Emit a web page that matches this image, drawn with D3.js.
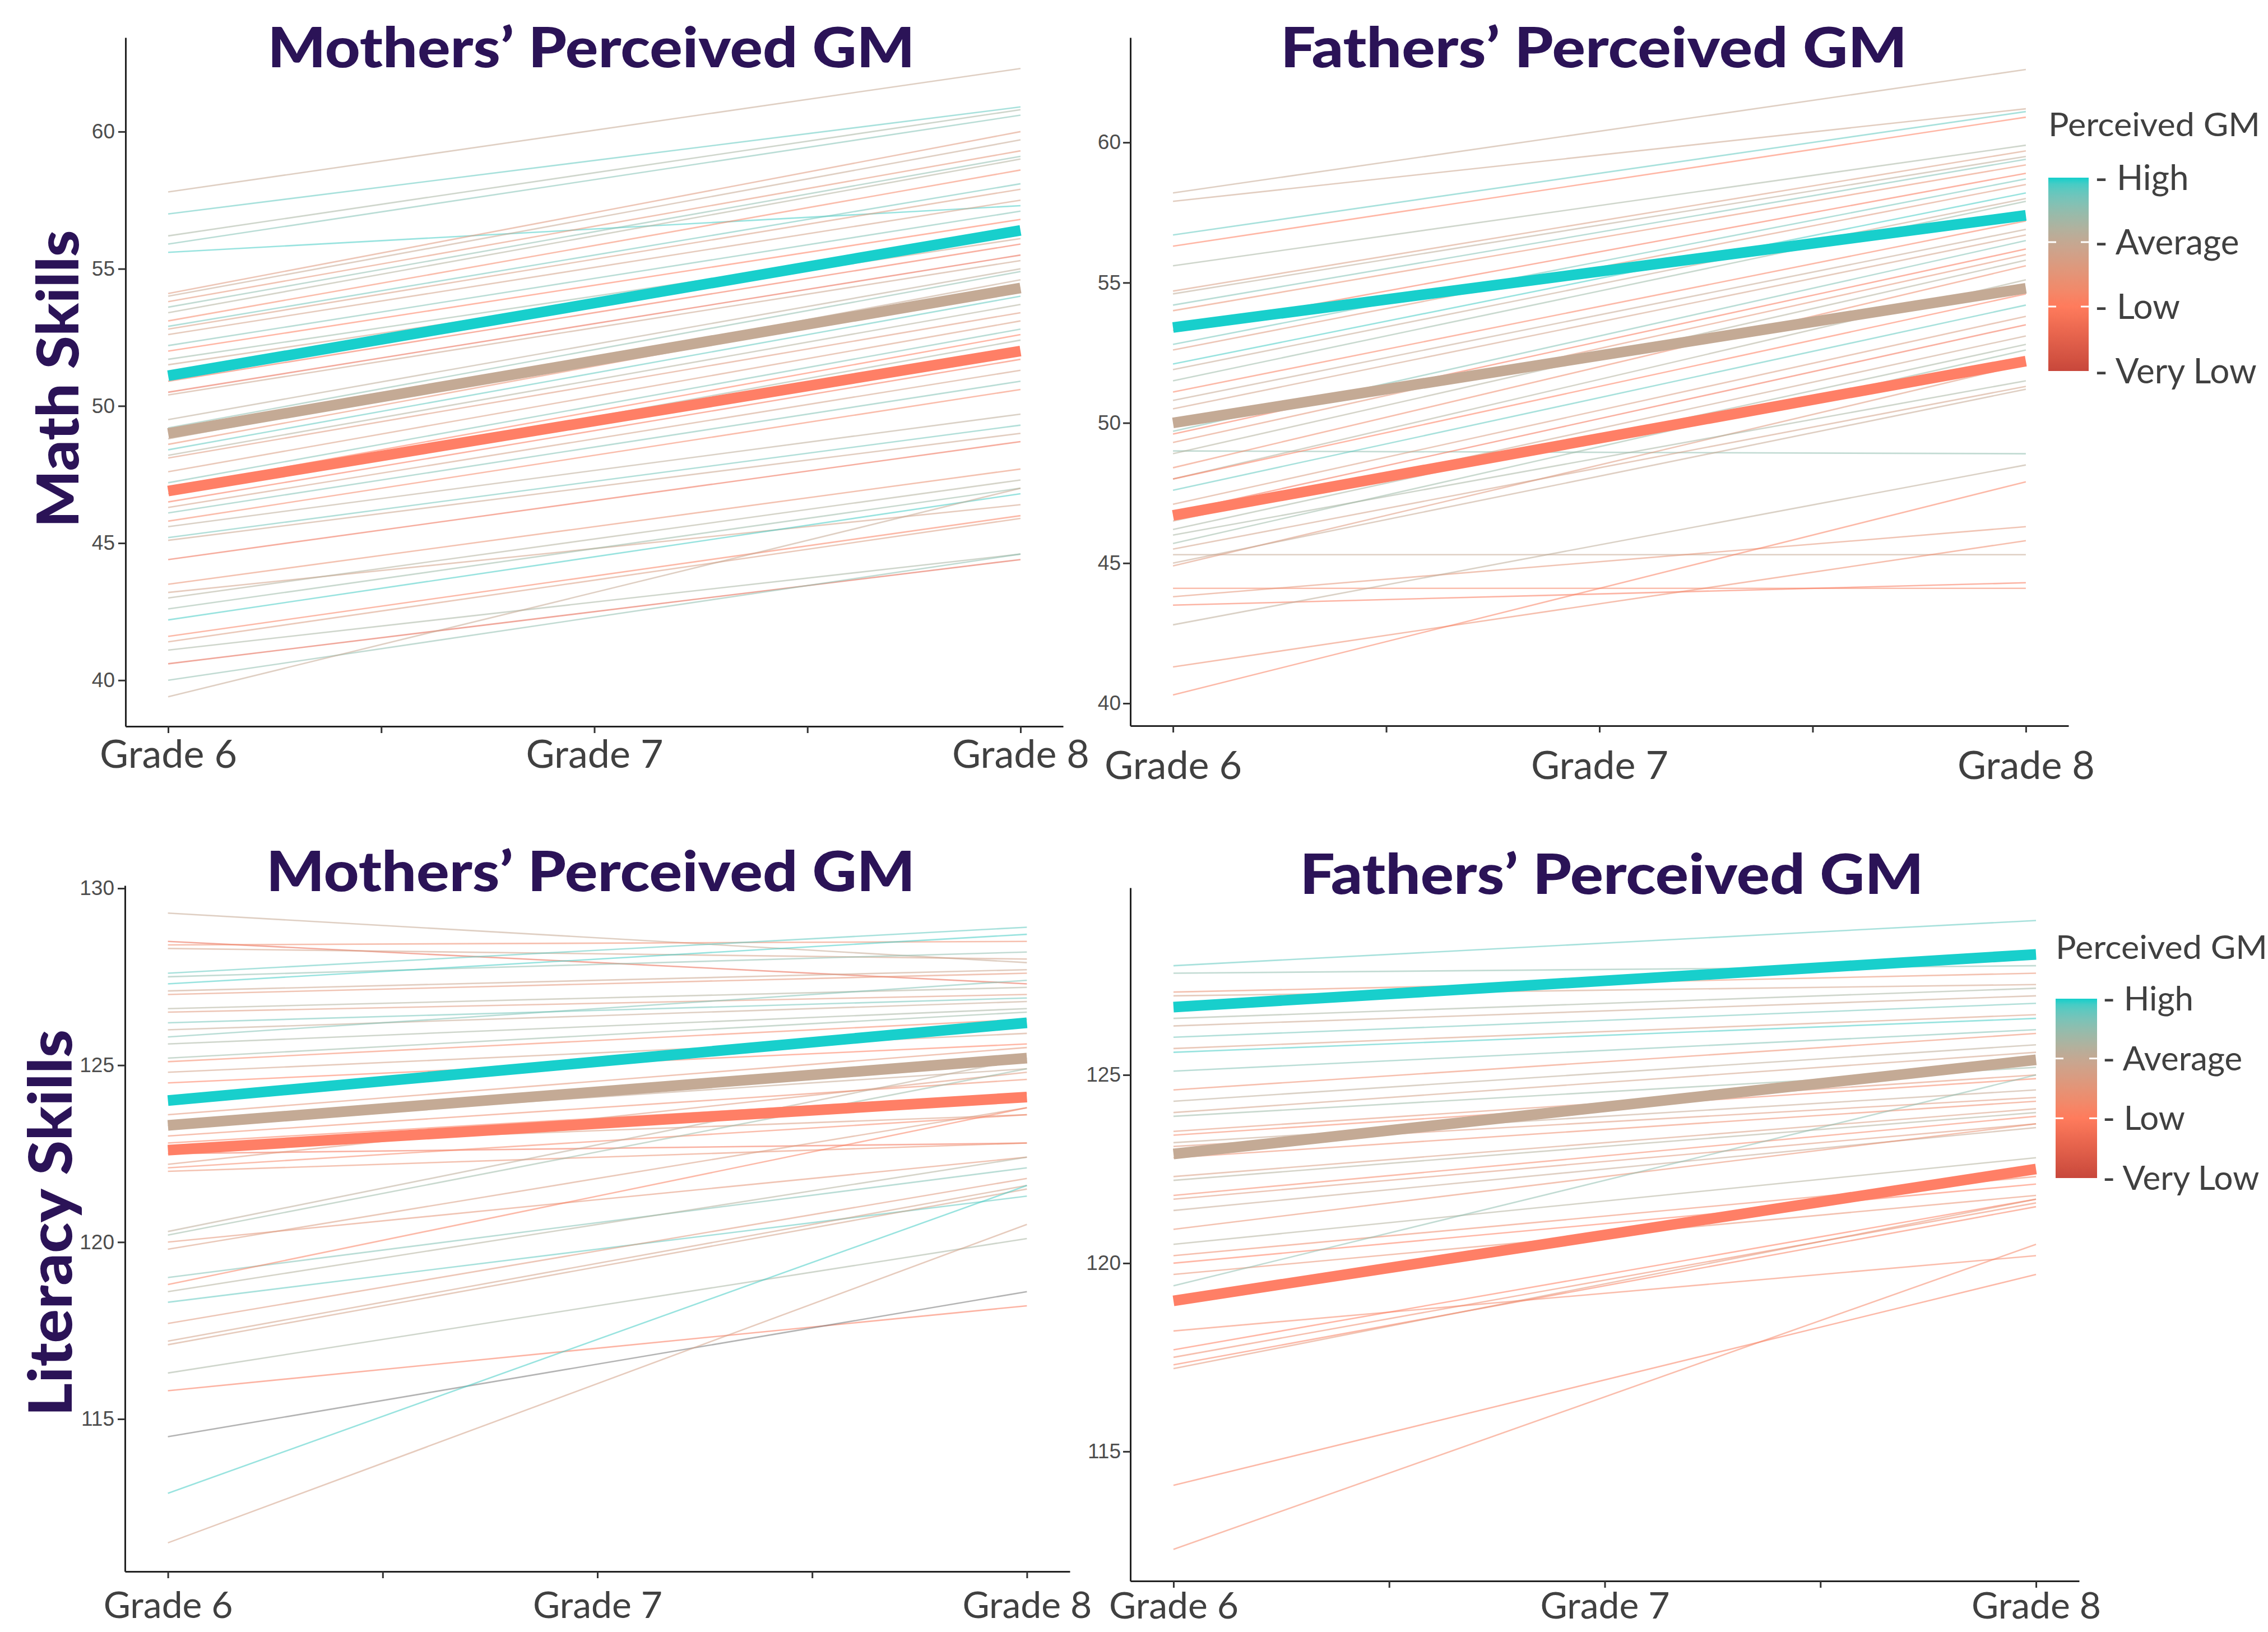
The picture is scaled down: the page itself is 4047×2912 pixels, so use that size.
<!DOCTYPE html>
<html>
<head>
<meta charset="utf-8">
<script src="https://cdn.jsdelivr.net/npm/d3@7"></script>
<style>
  body { margin: 0; background: #fff; }
  svg { display: block; }
</style>
</head>
<body>
<script>
// x categories
var grades = ["Grade 6", "Grade 7", "Grade 8"];
var gradeVals = [6, 7, 8];

// perceived GM colour levels (0 = Very Low ... 3 = High)
var gmLevels = ["Very Low", "Low", "Average", "High"];
var gmColors = ["#C8473B", "#FF7B5C", "#C4A892", "#13CFCB"];

// group means (High, Average, Low)
var meanLevels = ["High", "Average", "Low"];
var meanColors = ["#18CFCC", "#C4AA95", "#FF7F66"];

// y tick labels
var mathTicks = [40, 45, 50, 55, 60];
var litMomTicks = [115, 120, 125, 130];
var litDadTicks = [115, 120, 125];

// Math skills, mothers' perceived GM
var mathMomG6 = [57.8,57.0,56.2,55.9,55.6,54.1,54.0,53.8,53.6,53.4,53.1,52.9,52.8,52.6,52.2,52.0,51.7,51.5,50.9,50.5,50.4,49.5,49.2,48.8,48.6,48.4,48.2,48.1,47.6,47.2,47.0,46.8,46.5,46.3,46.1,45.8,45.6,45.2,45.1,44.4,43.5,43.2,43.0,42.6,42.2,41.6,41.4,41.1,40.6,40.0,39.4];
var mathMomG8 = [62.3,60.9,60.8,60.6,57.3,60.0,59.7,59.3,59.1,59.0,58.6,58.1,57.9,57.5,57.1,56.8,56.3,56.1,55.9,55.5,55.3,55.0,54.9,54.6,54.3,54.0,53.7,53.4,53.1,52.8,52.6,52.4,51.7,51.3,50.9,50.6,49.7,49.3,49.0,48.7,47.7,46.4,47.3,47.0,46.8,46.0,45.9,44.6,44.4,44.6,47.0];
var mathMomGM = [2.0,2.8,2.3,2.6,2.9,1.6,2.0,1.5,2.5,2.2,1.2,2.7,1.7,1.8,2.6,1.0,2.4,1.9,0.8,0.6,1.9,2.1,2.5,2.0,1.4,2.8,2.2,1.6,1.7,2.6,1.0,2.3,0.9,1.8,2.6,1.2,2.1,2.7,1.9,0.7,1.4,1.8,2.2,2.4,2.9,1.1,1.7,2.3,0.5,2.5,2.0];
var mathMomMeanG6 = [51.1, 49.0, 46.9];
var mathMomMeanG8 = [56.4, 54.3, 52.0];

// Math skills, fathers' perceived GM
var mathDadG6 = [58.2,57.9,56.7,56.3,55.6,54.7,54.6,54.2,54.0,53.3,52.8,52.6,52.1,51.9,51.5,51.1,50.8,50.5,49.7,49.6,49.3,49.0,48.9,48.4,48.0,48.0,47.6,47.1,46.8,46.5,46.2,45.7,45.3,44.9,44.1,43.8,43.5,42.8,41.3,40.3,46.0,45.5,45.0];
var mathDadG8 = [62.6,61.2,61.1,60.9,59.9,59.7,59.5,59.4,59.2,58.9,58.7,58.5,58.2,58.0,57.9,57.2,56.9,56.7,56.5,56.2,56.0,48.9,55.8,55.6,55.1,54.6,54.2,53.8,53.5,53.1,52.8,52.6,45.3,52.1,44.1,46.3,44.3,48.5,45.8,47.9,51.5,51.3,51.2];
var mathDadGM = [2.0,1.9,2.8,1.0,2.3,1.7,2.1,2.6,1.4,0.9,2.7,1.6,2.9,2.0,2.4,1.1,2.0,1.8,2.6,0.9,1.5,2.5,2.2,1.3,2.2,1.0,2.8,1.7,0.8,1.9,2.3,2.4,2.0,1.6,1.2,1.5,0.9,2.1,1.3,1.1,2.3,1.8,2.0];
var mathDadMeanG6 = [53.4, 50.0, 46.7];
var mathDadMeanG8 = [57.4, 54.8, 52.2];

// Literacy skills, mothers' perceived GM
var litMomG6 = [129.3,128.5,128.4,128.3,127.6,127.5,127.3,127.1,127.0,126.6,126.5,126.2,126.0,125.8,125.6,125.2,125.1,124.8,124.5,123.6,123.3,123.0,122.8,122.7,122.5,122.2,122.1,122.0,120.3,120.2,120.0,119.8,119.0,118.8,118.6,118.3,117.7,117.2,117.1,116.3,115.8,114.5,112.9,111.5];
var litMomG8 = [127.9,127.3,128.5,128.0,128.9,128.2,128.7,127.7,127.6,127.2,127.0,126.9,126.8,127.4,126.6,126.5,126.3,125.9,125.6,125.5,124.9,124.6,124.2,123.6,122.8,124.8,123.6,122.8,125.2,124.9,122.4,123.8,122.1,123.8,122.4,121.3,121.8,121.6,121.5,120.1,118.2,118.6,121.6,120.5];
var litMomGM = [2.0,0.6,1.3,1.8,2.8,2.5,2.9,1.9,1.5,2.2,1.6,2.7,2.0,2.6,2.3,2.4,1.2,1.8,1.0,1.5,2.0,1.3,1.1,1.7,0.8,1.6,1.2,1.4,2.1,2.4,1.5,1.7,2.6,1.1,2.2,2.8,1.6,1.8,1.8,2.3,0.9,null,2.9,1.8];
var litMomMeanG6 = [124.0, 123.3, 122.6];
var litMomMeanG8 = [126.2, 125.2, 124.1];

// Literacy skills, fathers' perceived GM
var litDadG6 = [127.9,127.7,127.2,127.1,126.5,126.3,126.0,125.7,125.6,125.1,124.6,124.3,124.0,123.9,123.5,123.4,123.2,123.1,122.8,122.3,122.2,121.8,121.7,121.4,120.9,120.5,120.2,120.0,119.7,119.4,118.2,117.7,117.5,117.3,117.2,114.1,112.4];
var litDadG8 = [129.1,127.9,127.7,127.4,127.3,127.1,126.9,126.6,126.5,126.2,126.1,125.8,125.6,125.2,125.0,124.9,124.6,124.4,124.3,124.1,124.0,123.9,123.7,123.6,123.7,122.8,122.3,122.1,121.8,125.0,120.2,121.7,121.6,121.5,121.7,119.7,120.5];
var litDadGM = [2.8,2.5,1.4,1.8,2.3,1.9,2.7,1.7,2.9,2.6,1.3,2.1,1.8,2.4,1.5,1.2,2.0,1.6,1.3,1.7,2.2,1.2,1.6,2.0,1.4,2.2,1.3,1.0,1.4,2.5,1.2,1.0,1.3,1.1,1.5,1.1,1.2];
var litDadMeanG6 = [126.8, 122.9, 119.0];
var litDadMeanG8 = [128.2, 125.4, 122.5];

var width = 4047;
var height = 2912;
var titleColor = "#2B1357";
var textColor = "#404040";

var svg = d3.select("body")
            .append("svg")
            .attr("width", width)
            .attr("height", height);

svg.append("rect")
    .attr("width", width)
    .attr("height", height)
    .attr("fill", "white");

var gmColor = d3.scaleLinear()
                .domain([0, 1, 2, 3])
                .range(gmColors)
                .interpolate(d3.interpolateLab);

function lineColor(v) {
    return v == null ? "#777777" : gmColor(v);
}

var panels = [
    { g6: mathMomG6, g8: mathMomG8, gm: mathMomGM, m6: mathMomMeanG6, m8: mathMomMeanG8,
      left: 224, right: 1897, top: 67, bottom: 1296, ydom: [38.32, 63.43], yticks: mathTicks,
      title: "Mothers\u2019 Perceived GM", titleX: 1055, titleY: 120, titleLen: 1155,
      gradePad: 12, gradeSize: 70, yPad: 6 },
    { g6: mathDadG6, g8: mathDadG8, gm: mathDadGM, m6: mathDadMeanG6, m8: mathDadMeanG8,
      left: 2017, right: 3691, top: 67, bottom: 1295, ydom: [39.2, 63.74], yticks: mathTicks,
      title: "Fathers\u2019 Perceived GM", titleX: 2844, titleY: 120, titleLen: 1118,
      gradePad: 33, gradeSize: 70, yPad: 4 },
    { g6: litMomG6, g8: litMomG8, gm: litMomGM, m6: litMomMeanG6, m8: litMomMeanG8,
      left: 223, right: 1909, top: 1580, bottom: 2804, ydom: [110.69, 130.08], yticks: litMomTicks,
      title: "Mothers\u2019 Perceived GM", titleX: 1054, titleY: 1590, titleLen: 1158,
      gradePad: 24, gradeSize: 66, yPad: 6 },
    { g6: litDadG6, g8: litDadG8, gm: litDadGM, m6: litDadMeanG6, m8: litDadMeanG8,
      left: 2017, right: 3710, top: 1584, bottom: 2821, ydom: [111.56, 129.97], yticks: litDadTicks,
      title: "Fathers\u2019 Perceived GM", titleX: 2876, titleY: 1595, titleLen: 1113,
      gradePad: 8, gradeSize: 66, yPad: 4 }
];

panels.forEach(function(p) {
    var x = d3.scaleLinear().domain([5.9, 8.1]).range([p.left, p.right]);
    var y = d3.scaleLinear().domain(p.ydom).range([p.bottom, p.top]);
    var lineGenerator = d3.line()
                          .x(function(d) { return x(d[0]); })
                          .y(function(d) { return y(d[1]); });
    var g = svg.append("g");

    // individual trajectories
    var kids = p.g6.map(function(v, i) { return { a: v, b: p.g8[i], c: p.gm[i] }; });
    g.append("g").selectAll("path")
        .data(kids)
        .join("path")
        .attr("d", function(d) { return lineGenerator([[gradeVals[0], d.a], [gradeVals[2], d.b]]); })
        .attr("fill", "none")
        .attr("stroke", function(d) { return lineColor(d.c); })
        .attr("stroke-opacity", 0.55)
        .attr("stroke-width", 2.6);

    // group means
    g.append("g").selectAll("path")
        .data(meanLevels)
        .join("path")
        .attr("d", function(d, i) { return lineGenerator([[gradeVals[0], p.m6[i]], [gradeVals[2], p.m8[i]]]); })
        .attr("fill", "none")
        .attr("stroke", function(d, i) { return meanColors[i]; })
        .attr("stroke-width", 19);

    // y axis
    var yAxis = d3.axisLeft(y)
                  .tickValues(p.yticks)
                  .tickSize(13)
                  .tickSizeOuter(0)
                  .tickPadding(p.yPad);
    var ya = g.append("g")
              .attr("transform", "translate(" + p.left + ",0)")
              .call(yAxis);
    ya.select(".domain").attr("stroke", "#222").attr("stroke-width", 3);
    ya.selectAll(".tick line").attr("stroke", "#333").attr("stroke-width", 3);
    ya.selectAll("text")
        .attr("fill", "#4d4d4d")
        .style("font-family", "Liberation Sans, Arial, sans-serif")
        .style("font-size", "37px");

    // x axis
    var xAxis = d3.axisBottom(x)
                  .tickValues([6, 6.5, 7, 7.5, 8])
                  .tickFormat(function(d) {
                      var i = gradeVals.indexOf(d);
                      return i < 0 ? "" : grades[i];
                  })
                  .tickSize(12)
                  .tickSizeOuter(0)
                  .tickPadding(p.gradePad);
    var xa = g.append("g")
              .attr("transform", "translate(0," + p.bottom + ")")
              .call(xAxis);
    xa.select(".domain").attr("stroke", "#222").attr("stroke-width", 3);
    xa.selectAll(".tick line").attr("stroke", "#333").attr("stroke-width", 3);
    xa.selectAll("text")
        .attr("fill", textColor)
        .style("font-family", "Lato, 'Open Sans', sans-serif")
        .style("font-size", p.gradeSize + "px");

    // panel title
    svg.append("text")
        .attr("x", p.titleX)
        .attr("y", p.titleY)
        .style("text-anchor", "middle")
        .attr("textLength", p.titleLen)
        .attr("lengthAdjust", "spacingAndGlyphs")
        .style("font-family", "Lato, 'Open Sans', sans-serif")
        .style("font-weight", 900)
        .style("font-size", "100px")
        .attr("fill", titleColor)
        .text(p.title);
});

// row titles
var rowTitles = [
    { text: "Math Skills", x: 140, y: 676, len: 531, size: 103 },
    { text: "Literacy Skills", x: 128, y: 2182, len: 690, size: 107 }
];
rowTitles.forEach(function(r) {
    svg.append("text")
        .attr("transform", "translate(" + r.x + "," + r.y + ") rotate(-90)")
        .style("text-anchor", "middle")
        .attr("textLength", r.len)
        .attr("lengthAdjust", "spacingAndGlyphs")
        .style("font-family", "Lato, 'Open Sans', sans-serif")
        .style("font-weight", 900)
        .style("font-size", r.size + "px")
        .attr("fill", titleColor)
        .text(r.text);
});

// colour bar legends
var defs = svg.append("defs");
var grad = defs.append("linearGradient")
               .attr("id", "gmGrad")
               .attr("x1", 0).attr("y1", 0)
               .attr("x2", 0).attr("y2", 1);
d3.range(31).forEach(function(k) {
    grad.append("stop")
        .attr("offset", (k / 30 * 100) + "%")
        .attr("stop-color", gmColor(3 - 3 * k / 30));
});

var legends = [
    { x: 3655, y0: 317, y1: 662, w: 72, titleY: 243, labelX: 3738, labelSize: 62 },
    { x: 3668, y0: 1782, y1: 2102, w: 74, titleY: 1711, labelX: 3752, labelSize: 60 }
];
legends.forEach(function(l) {
    var ls = d3.scaleLinear().domain([0, 3]).range([l.y1, l.y0]);
    var lg = svg.append("g");

    lg.append("text")
        .attr("x", l.x)
        .attr("y", l.titleY)
        .attr("textLength", 378)
        .attr("lengthAdjust", "spacingAndGlyphs")
        .style("font-family", "Lato, 'Open Sans', sans-serif")
        .style("font-size", "59px")
        .attr("fill", textColor)
        .text("Perceived GM");

    lg.append("rect")
        .attr("x", l.x)
        .attr("y", ls(3))
        .attr("width", l.w)
        .attr("height", ls(0) - ls(3))
        .attr("fill", "url(#gmGrad)");

    // white tick marks inside the bar
    [1, 2].forEach(function(v) {
        lg.append("line")
            .attr("x1", l.x).attr("x2", l.x + 14)
            .attr("y1", ls(v)).attr("y2", ls(v))
            .attr("stroke", "white").attr("stroke-width", 3);
        lg.append("line")
            .attr("x1", l.x + l.w - 14).attr("x2", l.x + l.w)
            .attr("y1", ls(v)).attr("y2", ls(v))
            .attr("stroke", "white").attr("stroke-width", 3);
    });

    lg.selectAll("text.lab")
        .data(gmLevels)
        .join("text")
        .attr("class", "lab")
        .attr("x", l.labelX)
        .attr("y", function(d, i) { return ls(i); })
        .attr("dy", "0.35em")
        .style("font-family", "Lato, 'Open Sans', sans-serif")
        .style("font-size", l.labelSize + "px")
        .attr("fill", textColor)
        .text(function(d) { return "- " + d; });
});
</script>
</body>
</html>
